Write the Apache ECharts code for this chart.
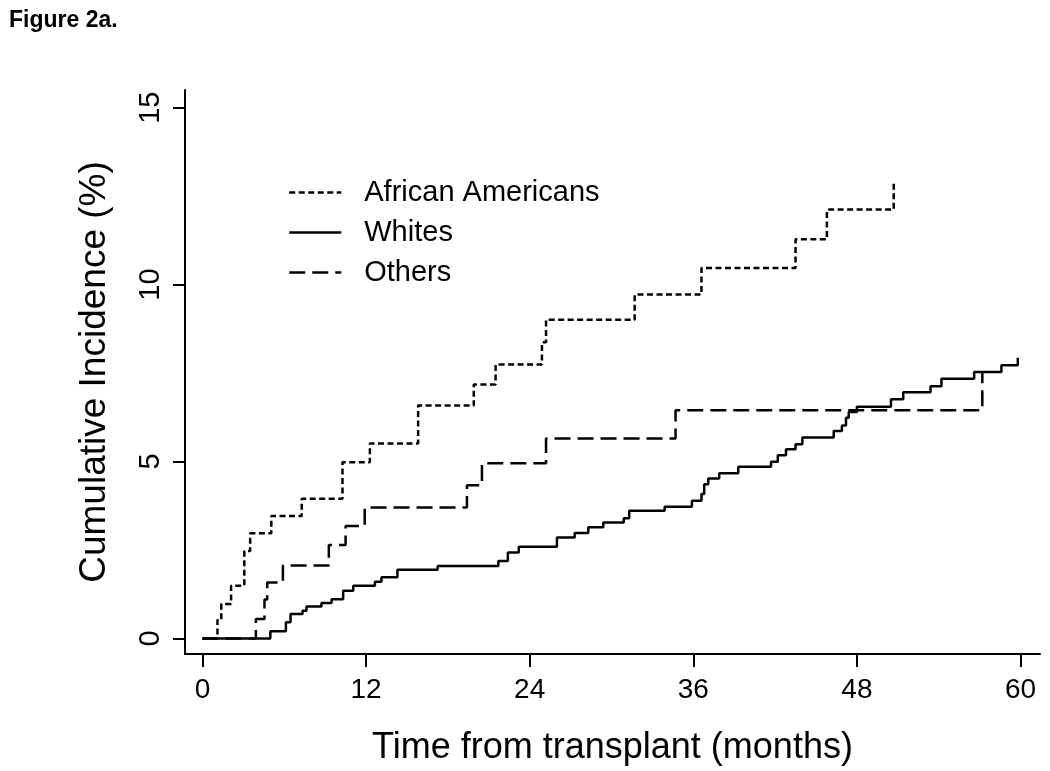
<!DOCTYPE html>
<html>
<head>
<meta charset="utf-8">
<script src="https://cdn.jsdelivr.net/npm/echarts@6/dist/echarts.min.js"></script>
<style>
html,body{margin:0;padding:0;background:#fff;}
#chart{width:1050px;height:771px;}
</style>
</head>
<body>
<div id="chart"></div>
<script>
// ---- Data ----
var seriesNames = ['African Americans', 'Whites', 'Others'];
var xTicks = [0, 12, 24, 36, 48, 60];
var yTicks = [0, 5, 10, 15];

// [months, cumulative incidence %]
var africanAmericans = [
  [0,0],[1.1,0.52],[1.38,0.97],[2.1,1.49],[3.07,2.47],[3.5,2.97],[5.05,3.46],
  [7.28,3.95],[10.27,4.98],[12.28,5.51],[15.82,6.58],[19.9,7.18],[21.5,7.74],
  [24.9,8.37],[25.2,9.01],[31.7,9.72],[36.6,10.47],[43.5,11.28],[45.8,12.12],
  [50.7,12.94]
];
var whites = [
  [0,0],[4.98,0.2],[6.12,0.46],[6.46,0.69],[7.34,0.78],[7.63,0.9],[8.73,1.0],
  [9.47,1.11],[10.32,1.35],[11.06,1.49],[12.65,1.6],[13.13,1.73],[14.3,1.94],
  [17.25,2.05],[21.7,2.19],[22.4,2.43],[23.2,2.59],[26.0,2.85],[27.3,2.98],
  [28.3,3.14],[29.4,3.28],[30.9,3.4],[31.3,3.61],[33.9,3.72],[35.9,3.89],
  [36.6,4.08],[36.8,4.36],[37.1,4.52],[37.9,4.67],[39.3,4.85],[41.7,4.99],
  [42.2,5.18],[42.8,5.35],[43.5,5.49],[44.0,5.68],[46.3,5.86],[46.9,6.02],
  [47.2,6.24],[47.4,6.4],[48.0,6.55],[50.5,6.76],[51.4,6.96],[53.4,7.13],
  [54.2,7.34],[56.6,7.53],[58.6,7.72],[59.8,7.93]
];
var others = [
  [0,0],[3.92,0.55],[4.55,1.1],[4.75,1.58],[5.9,2.06],[9.27,2.64],[10.5,3.18],
  [11.9,3.7],[19.4,4.33],[20.5,4.95],[25.2,5.65],[34.7,6.45],[57.2,7.53]
];

var FONT = '"Liberation Sans", Arial, Helvetica, sans-serif';
var chart = echarts.init(document.getElementById('chart'), null, {renderer: 'canvas'});

chart.setOption({
  backgroundColor: '#ffffff',
  animation: false,
  textStyle: {fontFamily: FONT, color: '#000'},
  title: {
    text: 'Figure 2a.',
    left: 4, top: 4,
    textStyle: {fontFamily: FONT, fontSize: 23, fontWeight: 'bold', color: '#000'}
  },
  legend: {
    orient: 'vertical',
    left: 283, top: 172,
    itemWidth: 52, itemHeight: 20,
    itemGap: 9,
    data: seriesNames,
    itemStyle: {opacity: 0},
    lineStyle: {width: 2.5},
    textStyle: {fontFamily: FONT, fontSize: 29, color: '#000', lineHeight: 31, padding: [0,0,0,18]}
  },
  grid: {left: 185, right: 10, top: 90, bottom: 116, containLabel: false},
  xAxis: {
    type: 'value',
    min: -1.28, max: 61.43,
    name: 'Time from transplant (months)',
    nameLocation: 'middle', nameGap: 76,
    nameTextStyle: {fontFamily: FONT, fontSize: 36, color: '#000'},
    axisLine: {show: true, onZero: false, lineStyle: {color: '#000', width: 2}},
    axisTick: {show: true, length: 13, customValues: xTicks, lineStyle: {color: '#000', width: 2}},
    axisLabel: {customValues: xTicks, fontFamily: FONT, fontSize: 28, color: '#000', margin: 22},
    splitLine: {show: false}
  },
  yAxis: {
    type: 'value',
    min: -0.44, max: 15.5,
    name: 'Cumulative Incidence (%)',
    nameLocation: 'middle', nameGap: 72,
    nameTextStyle: {fontFamily: FONT, fontSize: 37, color: '#000'},
    axisLine: {show: true, onZero: false, lineStyle: {color: '#000', width: 2}},
    axisTick: {show: true, length: 12, customValues: yTicks, lineStyle: {color: '#000', width: 2}},
    axisLabel: {customValues: yTicks, rotate: 90, fontFamily: FONT, fontSize: 29, color: '#000', margin: 20},
    splitLine: {show: false}
  },
  series: [
    {
      name: seriesNames[0], type: 'line', step: 'end', symbol: 'none',
      data: africanAmericans,
      lineStyle: {color: '#000', width: 2.5, type: [6, 3.5]},
      itemStyle: {color: '#000'}
    },
    {
      name: seriesNames[1], type: 'line', step: 'end', symbol: 'none',
      data: whites,
      lineStyle: {color: '#000', width: 2.5, type: 'solid'},
      itemStyle: {color: '#000'}
    },
    {
      name: seriesNames[2], type: 'line', step: 'end', symbol: 'none',
      data: others,
      lineStyle: {color: '#000', width: 2.5, type: [16, 7]},
      itemStyle: {color: '#000'}
    }
  ]
});
</script>
</body>
</html>
